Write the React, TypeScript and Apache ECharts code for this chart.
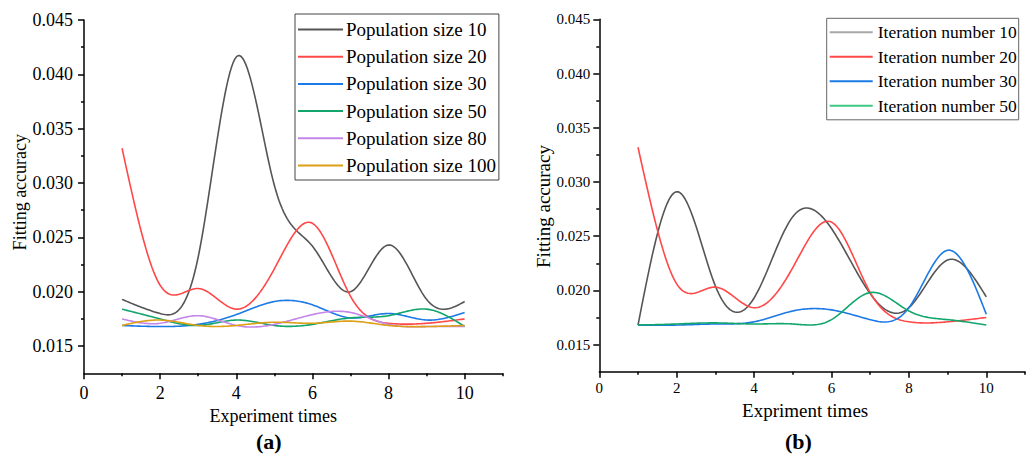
import { useEffect, useRef } from "react";
import * as echarts from "echarts";

// ---------- data ----------
const experimentTimes = [1, 2, 3, 4, 5, 6, 7, 8, 9, 10];

const popNames = [
  "Population size 10",
  "Population size 20",
  "Population size 30",
  "Population size 50",
  "Population size 80",
  "Population size 100",
];
const pop10 = [0.0193, 0.018, 0.0232, 0.0416, 0.0298, 0.0242, 0.02, 0.0243, 0.0193, 0.0191];
const pop20 = [0.0332, 0.0206, 0.0203, 0.0184, 0.0221, 0.0263, 0.0196, 0.0171, 0.0171, 0.0175];
const pop30 = [0.0169, 0.0168, 0.017, 0.0179, 0.0191, 0.0188, 0.0176, 0.018, 0.0174, 0.0181];
const pop50 = [0.0184, 0.0175, 0.0169, 0.0174, 0.0169, 0.017, 0.0176, 0.0178, 0.0184, 0.0168];
const pop80 = [0.0175, 0.0171, 0.0178, 0.0169, 0.017, 0.0179, 0.0181, 0.017, 0.0168, 0.0168];
const pop100 = [0.0169, 0.0174, 0.0169, 0.0169, 0.0172, 0.0171, 0.0173, 0.0169, 0.0168, 0.0169];

const iterNames = [
  "Iteration number 10",
  "Iteration number 20",
  "Iteration number 30",
  "Iteration number 50",
];
const iter10 = [0.0168, 0.0291, 0.0204, 0.0193, 0.0268, 0.0257, 0.0197, 0.0184, 0.0228, 0.0194];
const iter20 = [0.0332, 0.0206, 0.0203, 0.0184, 0.0221, 0.0263, 0.0198, 0.0171, 0.0171, 0.0175];
const iter30 = [0.0168, 0.0168, 0.0169, 0.0171, 0.0181, 0.0182, 0.0173, 0.0184, 0.0237, 0.0178];
const iter50 = [0.0168, 0.0169, 0.017, 0.0169, 0.0169, 0.0173, 0.0198, 0.0181, 0.0173, 0.0168];

const xMajorTicks = [0, 2, 4, 6, 8, 10];
const xMinorTicks = [1, 3, 5, 7, 9, 11];
const yMajorTicks = [0.015, 0.02, 0.025, 0.03, 0.035, 0.04, 0.045];
const yMinorTicks = [0.0175, 0.0225, 0.0275, 0.0325, 0.0375, 0.0425];

const popColors = ["#555555", "#FF4848", "#1C7AE6", "#12A56C", "#C486E8", "#DDA017"];
const iterColors = ["#555555", "#FF4848", "#1C7AE6", "#12A56C"];
const iterLegendColors = ["#A8A8A8", "#FF4848", "#1C7AE6", "#3CC884"];

const FONT = "Liberation Serif";

function toPoints(arr: number[]) {
  return experimentTimes.map((x, i) => [x, arr[i]]);
}

// natural cubic spline through pixel points, sampled densely
function splinePixels(pts: number[][], samples = 24): number[][] {
  const n = pts.length;
  const xs = pts.map((p) => p[0]);
  const ys = pts.map((p) => p[1]);
  const h: number[] = [];
  for (let i = 0; i < n - 1; i++) h.push(xs[i + 1] - xs[i]);
  const m = new Array(n).fill(0);
  const a = new Array(n).fill(0);
  const b = new Array(n).fill(0);
  const c = new Array(n).fill(0);
  const d = new Array(n).fill(0);
  b[0] = 1;
  b[n - 1] = 1;
  for (let i = 1; i < n - 1; i++) {
    a[i] = h[i - 1];
    b[i] = 2 * (h[i - 1] + h[i]);
    c[i] = h[i];
    d[i] = 6 * ((ys[i + 1] - ys[i]) / h[i] - (ys[i] - ys[i - 1]) / h[i - 1]);
  }
  const cp = new Array(n).fill(0);
  const dp = new Array(n).fill(0);
  cp[0] = c[0] / b[0];
  dp[0] = d[0] / b[0];
  for (let i = 1; i < n; i++) {
    const den = b[i] - a[i] * cp[i - 1];
    cp[i] = c[i] / den;
    dp[i] = (d[i] - a[i] * dp[i - 1]) / den;
  }
  m[n - 1] = dp[n - 1];
  for (let i = n - 2; i >= 0; i--) m[i] = dp[i] - cp[i] * m[i + 1];
  const out: number[][] = [];
  for (let i = 0; i < n - 1; i++) {
    for (let s = 0; s < samples; s++) {
      const t = s / samples;
      const x = xs[i] + t * h[i];
      const A = 1 - t;
      const B = t;
      const y =
        A * ys[i] +
        B * ys[i + 1] +
        ((A * A * A - A) * m[i] + (B * B * B - B) * m[i + 1]) * (h[i] * h[i]) / 6;
      out.push([x, y]);
    }
  }
  out.push([xs[n - 1], ys[n - 1]]);
  return out;
}

function makeX(gridIndex: number, fs: number, name: string, namePad: number[], nameGap: number, labelMargin: number, nameFs: number) {
  return [
    {
      type: "value",
      gridIndex,
      position: "bottom",
      min: 0,
      max: 11,
      name,
      nameLocation: "middle",
      nameGap,
      nameTextStyle: { fontFamily: FONT, fontSize: nameFs, color: "#000", padding: namePad },
      axisLine: { show: true, lineStyle: { color: "#000", width: 1.5 } },
      axisTick: { show: true, length: 6, inside: false, customValues: xMajorTicks, lineStyle: { color: "#000", width: 1.5 } },
      axisLabel: { show: true, customValues: xMajorTicks, margin: labelMargin, fontFamily: FONT, fontSize: fs, color: "#000" },
      splitLine: { show: false },
    },
    {
      type: "value",
      gridIndex,
      position: "bottom",
      min: 0,
      max: 11,
      axisLine: { show: false },
      axisTick: { show: true, length: 3, customValues: xMinorTicks, lineStyle: { color: "#000", width: 1.5 } },
      axisLabel: { show: false },
      splitLine: { show: false },
    },
  ];
}

function makeY(gridIndex: number, fs: number, name: string, namePad: number[], nameGap: number, labelMargin: number, nameFs: number) {
  return [
    {
      type: "value",
      gridIndex,
      position: "left",
      min: 0.0125,
      max: 0.045,
      name,
      nameLocation: "middle",
      nameGap,
      nameRotate: 90,
      nameTextStyle: { fontFamily: FONT, fontSize: nameFs, color: "#000", padding: namePad },
      axisLine: { show: true, lineStyle: { color: "#000", width: 1.5 } },
      axisTick: { show: true, length: 6, customValues: yMajorTicks, lineStyle: { color: "#000", width: 1.5 } },
      axisLabel: {
        show: true,
        customValues: yMajorTicks,
        margin: labelMargin,
        fontFamily: FONT,
        fontSize: fs,
        color: "#000",
        formatter: (v: number) => v.toFixed(3),
      },
      splitLine: { show: false },
    },
    {
      type: "value",
      gridIndex,
      position: "left",
      min: 0.0125,
      max: 0.045,
      axisLine: { show: false },
      axisTick: { show: true, length: 3, customValues: yMinorTicks, lineStyle: { color: "#000", width: 1.5 } },
      axisLabel: { show: false },
      splitLine: { show: false },
    },
  ];
}

function makeSeries(name: string, values: number[], xi: number, yi: number, lineColor: string, legendColor: string) {
  const pts = toPoints(values);
  return {
    name,
    type: "custom",
    coordinateSystem: "cartesian2d",
    xAxisIndex: xi,
    yAxisIndex: yi,
    encode: { x: 0, y: 1 },
    itemStyle: { color: legendColor },
    data: pts,
    renderItem: (params: any, api: any) => {
      if (params.dataIndex !== 0) return null;
      const px = pts.map((p) => api.coord(p));
      return {
        type: "polyline",
        shape: { points: splinePixels(px) },
        style: { stroke: lineColor, lineWidth: 1.6, fill: "none" },
        silent: true,
      };
    },
  };
}

export default function App() {
  const ref = useRef<HTMLDivElement>(null);

  useEffect(() => {
    if (!ref.current) return;
    const chart = echarts.init(ref.current, null, { renderer: "svg" });

    const popData = [pop10, pop20, pop30, pop50, pop80, pop100];
    const iterData = [iter10, iter20, iter30, iter50];

    const popSeries = popData.map((d, i) => makeSeries(popNames[i], d, 0, 0, popColors[i], popColors[i]));
    const iterSeries = iterData.map((d, i) => makeSeries(iterNames[i], d, 2, 2, iterColors[i], iterLegendColors[i]));

    chart.setOption({
      animation: false,
      backgroundColor: "#fff",
      textStyle: { fontFamily: FONT },
      grid: [
        { left: 84, top: 20, width: 418.7, height: 353.3, containLabel: false },
        { left: 599.3, top: 19.3, width: 425.7, height: 352.4, containLabel: false },
      ],
      xAxis: [
        ...makeX(0, 18, "Experiment times", [0, 40, 0, 0], 29, 11, 18),
        ...makeX(1, 15, "Expriment times", [0, 14, 0, 0], 29, 9, 19),
      ],
      yAxis: [
        ...makeY(0, 18, "Fitting accuracy", [0, 0, 0, 9], 50, 11, 18),
        ...makeY(1, 15, "Fitting accuracy", [0, 22, 0, 0], 45, 9, 19),
      ],
      legend: [
        {
          data: popNames,
          orient: "vertical",
          left: 295,
          top: 14,
          borderColor: "#444",
          borderWidth: 1,
          padding: [6, 3, 5, 3],
          itemGap: 8.2,
          itemWidth: 45,
          itemHeight: 2,
          icon: "rect",
          textStyle: { fontFamily: FONT, fontSize: 19, color: "#000", padding: [0, 0, 0, -2] },
        },
        {
          data: iterNames,
          orient: "vertical",
          left: 826.7,
          top: 18.3,
          borderColor: "#666",
          borderWidth: 1,
          padding: [5, 2, 5, 3],
          itemGap: 6.5,
          itemWidth: 43,
          itemHeight: 2,
          icon: "rect",
          textStyle: { fontFamily: FONT, fontSize: 17.5, color: "#000" },
        },
      ],
      graphic: [
        {
          type: "text",
          left: 256,
          top: 430,
          style: { text: "(a)", fontFamily: FONT, fontSize: 22, fontWeight: "bold", fill: "#000" },
        },
        {
          type: "text",
          left: 785,
          top: 430,
          style: { text: "(b)", fontFamily: FONT, fontSize: 22, fontWeight: "bold", fill: "#000" },
        },
      ],
      series: [...popSeries, ...iterSeries],
    });

    return () => chart.dispose();
  }, []);

  return (
    <div
      ref={ref}
      style={{ position: "fixed", left: 0, top: 0, width: 1030, height: 459, background: "#fff" }}
    />
  );
}
